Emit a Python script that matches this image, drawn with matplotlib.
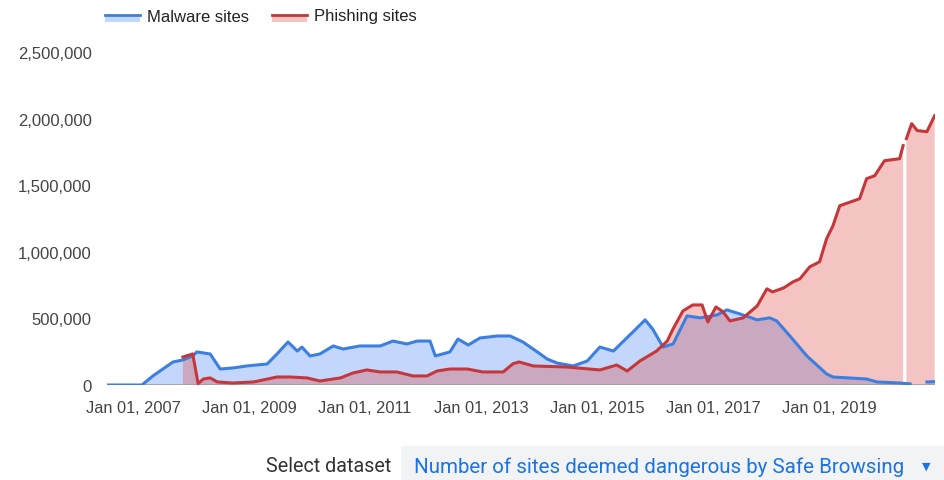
import numpy as np
import pandas as pd
import matplotlib
matplotlib.use("Agg")
import matplotlib.pyplot as plt
import matplotlib.dates as mdates
from matplotlib.patches import Rectangle
from matplotlib.lines import Line2D
from matplotlib.ticker import FuncFormatter

# ---- data ----
malware_dates = [
    "2006-07-21", "2007-02-25", "2007-05-05", "2007-09-09", "2007-11-10", "2008-01-11",
    "2008-02-06", "2008-04-30", "2008-07-02", "2008-09-21", "2008-12-17", "2009-04-24",
    "2009-06-25", "2009-09-02", "2009-10-31", "2009-11-29", "2010-01-19", "2010-03-22",
    "2010-06-14", "2010-08-15", "2010-11-29", "2011-04-06", "2011-06-25", "2011-09-21",
    "2011-11-25", "2012-02-14", "2012-03-18", "2012-06-18", "2012-08-08", "2012-10-12",
    "2012-12-24", "2013-04-14", "2013-07-02", "2013-09-21", "2014-01-08", "2014-02-21",
    "2014-04-24", "2014-08-04", "2014-10-31", "2015-01-19", "2015-04-14", "2015-08-15",
    "2015-10-31", "2015-12-17", "2016-02-21", "2016-04-24", "2016-07-21", "2016-10-12",
    "2017-01-26", "2017-03-30", "2017-06-18", "2017-10-06", "2017-12-24", "2018-02-06",
    "2018-04-30", "2018-08-15", "2018-12-17", "2019-01-26", "2019-08-26", "2019-10-31",
    "2020-03-21", "2020-05-26", "2020-06-28", "2020-09-09", "2020-10-30",
]
malware_values = [
    0, 0, 68000, 173000, 188000, 218000,
    248000, 233000, 120000, 128000, 143000, 158000,
    233000, 323000, 255000, 285000, 218000, 233000,
    293000, 270000, 293000, 293000, 330000, 308000,
    330000, 330000, 218000, 248000, 345000, 300000,
    353000, 368000, 368000, 323000, 233000, 195000,
    165000, 143000, 180000, 285000, 255000, 398000,
    489000, 421000, 285000, 308000, 519000, 504000,
    526000, 564000, 534000, 489000, 504000, 481000,
    368000, 218000, 83000, 60000, 45000, 23000,
    15000, 8000, np.nan, 23000, 25000,
]

phishing_dates = [
    "2007-11-10", "2008-01-11", "2008-02-14", "2008-03-18", "2008-04-30", "2008-06-14",
    "2008-09-21", "2009-01-28", "2009-03-30", "2009-06-25", "2009-09-17", "2010-01-01",
    "2010-03-22", "2010-07-29", "2010-10-16", "2011-01-11", "2011-04-06", "2011-07-19",
    "2011-10-30", "2012-01-26", "2012-03-29", "2012-06-18", "2012-10-05", "2013-01-11",
    "2013-05-20", "2013-07-21", "2013-08-28", "2013-11-25", "2014-06-25", "2015-01-19",
    "2015-05-05", "2015-07-10", "2015-09-28", "2016-01-11", "2016-03-18", "2016-04-24",
    "2016-06-25", "2016-08-26", "2016-10-24", "2016-11-29", "2017-01-19", "2017-03-05",
    "2017-04-17", "2017-07-10", "2017-10-06", "2017-12-06", "2018-01-11", "2018-03-22",
    "2018-05-19", "2018-07-02", "2018-09-02", "2018-11-03", "2018-12-17", "2019-01-26",
    "2019-03-10", "2019-07-13", "2019-08-26", "2019-10-16", "2019-12-17", "2020-03-21",
    "2020-04-12", "2020-04-21", "2020-05-03", "2020-06-05", "2020-07-10", "2020-09-09",
    "2020-10-28",
]
phishing_values = [
    210000, 233000, 10000, 45000, 53000, 23000,
    15000, 23000, 38000, 60000, 60000, 53000,
    30000, 53000, 90000, 113000, 98000, 98000,
    68000, 68000, 105000, 120000, 120000, 98000,
    98000, 160000, 173000, 143000, 135000, 113000,
    150000, 105000, 180000, 255000, 330000, 421000,
    556000, 601000, 601000, 473000, 586000, 549000,
    481000, 504000, 594000, 722000, 699000, 729000,
    774000, 797000, 887000, 925000, 1098000, 1195000,
    1346000, 1398000, 1549000, 1571000, 1684000, 1699000,
    1797000, np.nan, 1850000, 1962000, 1910000, 1902000,
    2022000,
]

y_ticks = [0, 500000, 1000000, 1500000, 2000000, 2500000]
x_tick_years = [2007, 2009, 2011, 2013, 2015, 2017, 2019]
series_names = ["Malware sites", "Phishing sites"]
dropdown_label = "Select dataset"
dropdown_value = "Number of sites deemed dangerous by Safe Browsing"

# ---- styling ----
BLUE_LINE = "#3d7fe0"
BLUE_FILL = "#4285f4"
RED_LINE = "#c5373a"
RED_FILL = "#dc4a44"
ALPHA = 0.32
TXT = "#444444"

W, H = 945, 481
fig = plt.figure(figsize=(W / 100, H / 100), dpi=100)
ax = fig.add_axes([107 / W, 1 - 386 / H, (935 - 107) / W, (386 - 53) / H])

md = pd.to_datetime(malware_dates)
mv = np.array(malware_values, dtype=float)
pdt = pd.to_datetime(phishing_dates)
pv = np.array(phishing_values, dtype=float)

ax.fill_between(md, 0, mv, color=BLUE_FILL, alpha=ALPHA, lw=0, zorder=1)
ax.fill_between(pdt, 0, pv, color=RED_FILL, alpha=ALPHA, lw=0, zorder=2)
ax.axhline(0, color="#9e9e9e", lw=1.2, zorder=3)
ax.plot(md, mv, color=BLUE_LINE, lw=2.2, zorder=4, solid_joinstyle="round")
ax.plot(pdt, pv, color=RED_LINE, lw=2.2, zorder=5, solid_joinstyle="round")

ax.set_xlim(pd.Timestamp("2006-07-20"), pd.Timestamp("2020-10-30"))
ax.set_ylim(0, 2500000)
ax.set_yticks(y_ticks)
ax.yaxis.set_major_formatter(FuncFormatter(lambda v, p: f"{int(v):,}"))
ax.set_xticks([pd.Timestamp(f"{y}-01-01") for y in x_tick_years])
ax.xaxis.set_major_formatter(mdates.DateFormatter("Jan 01, %Y"))
for s in ax.spines.values():
    s.set_visible(False)
ax.tick_params(axis="y", length=0, labelsize=12, colors=TXT, pad=11)
ax.tick_params(axis="x", length=0, labelsize=11.8, colors=TXT, pad=11)
for lab in ax.get_xticklabels() + ax.get_yticklabels():
    lab.set_fontfamily("Liberation Sans")

# ---- legend (top) ----
def legend_item(x0, color_line, color_fill, text):
    fig.patches.append(Rectangle((x0 / W, 1 - 23 / H), 35 / W, 7 / H,
                                 transform=fig.transFigure, color=color_fill,
                                 alpha=ALPHA, lw=0))
    fig.lines.append(Line2D([x0 / W, (x0 + 35) / W], [1 - 16 / H, 1 - 16 / H],
                            transform=fig.transFigure, color=color_line, lw=2))
    fig.text((x0 + 42) / W, 1 - 17 / H, text, fontsize=12, color="#222222",
             va="center", ha="left", family="Liberation Sans")

legend_item(105, BLUE_LINE, BLUE_FILL, series_names[0])
legend_item(272, RED_LINE, RED_FILL, series_names[1])

# ---- dropdown (bottom) ----
fig.text(391 / W, 1 - 467 / H, dropdown_label, fontsize=14.2, color="#333333",
         ha="right", va="center", family="Roboto")
fig.patches.append(Rectangle((401 / W, 0), (W - 401) / W, (481 - 447) / H,
                             transform=fig.transFigure, color="#f1f3f4", lw=0))
fig.text(414 / W, 1 - 467 / H, dropdown_value, fontsize=14.8, color="#1a73e8",
         ha="left", va="center", family="Roboto")
fig.text(926 / W, 1 - 467 / H, "\u25BC", fontsize=8, color="#1a73e8",
         ha="center", va="center", family="DejaVu Sans")

fig.savefig("out.png", dpi=100)
